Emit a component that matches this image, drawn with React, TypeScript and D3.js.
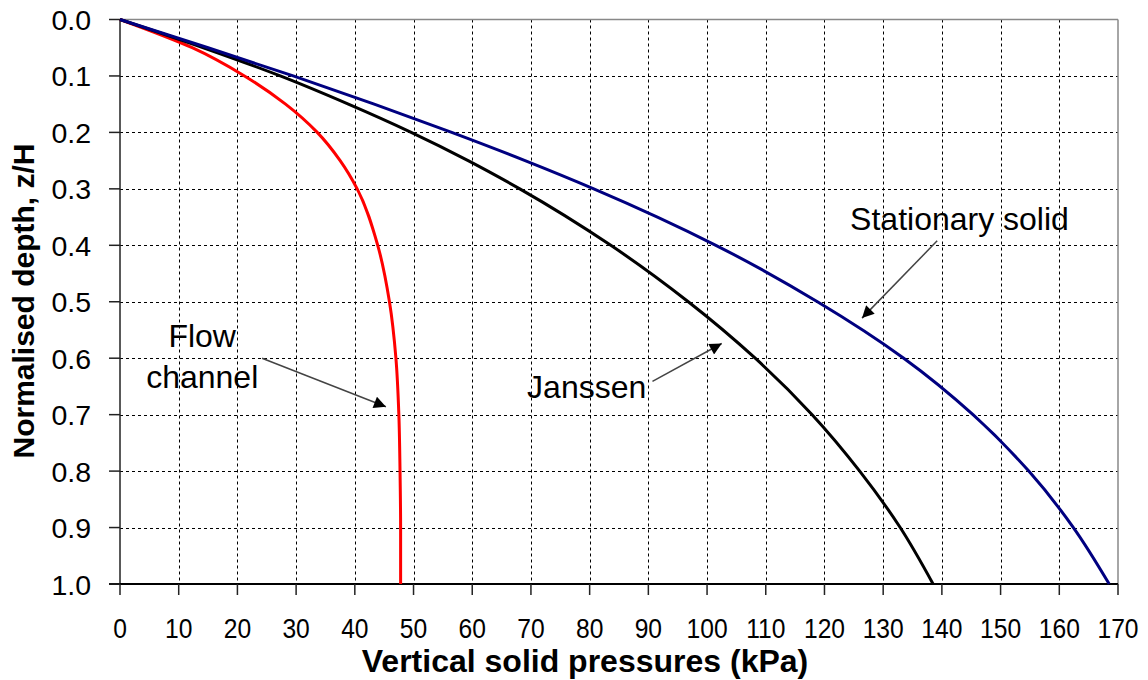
import React from "react";
import * as d3 from "d3";

const depth = [0, 0.05, 0.1, 0.15, 0.2, 0.25, 0.3, 0.4, 0.5, 0.6, 0.7, 0.8, 0.9, 1.0];
const flowChannel = [0, 12.3, 21.2, 28.2, 33.6, 37.5, 40.4, 43.9, 45.9, 47.0, 47.5, 47.7, 47.8, 47.8];
const janssen = [0, 14.2, 27.3, 38.9, 49.6, 59.3, 68.1, 83.6, 96.8, 108.2, 117.9, 126.0, 132.9, 138.5];
const stationary = [0, 15, 29.5, 43.3, 56.5, 69.0, 80.7, 101.5, 118.8, 133.5, 145.3, 154.8, 162.4, 168.5];

const xTicks = d3.range(0, 171, 10);
const yTicks = d3.range(0, 11).map((i) => i / 10);

const seriesNames = ["Flow channel", "Janssen", "Stationary solid"];
const seriesColors = ["#ff0000", "#000000", "#000080"];

const W = 1148;
const H = 680;
const FONT = "'Liberation Sans', Arial, sans-serif";

export default function App() {
  const x = d3.scaleLinear().domain([0, 170]).range([120, 1118]);
  const y = d3.scaleLinear().domain([0, 1]).range([19.5, 584]);

  const series = [flowChannel, janssen, stationary];
  const line = d3
    .line<[number, number]>()
    .x((d) => x(d[0]))
    .y((d) => y(d[1]))
    .curve(d3.curveMonotoneY);

  const labels = [
    { lines: ["Flow", "channel"], p: 14, d: 0.58, arrow: [[24.2, 0.6], [45.3, 0.686]] },
    { lines: ["Janssen"], p: 79.5, d: 0.67, arrow: [[90.7, 0.641], [102.5, 0.574]] },
    { lines: ["Stationary solid"], p: 143, d: 0.373, arrow: [[139.2, 0.392], [126.4, 0.529]] },
  ];

  return (
    <div style={{ position: "fixed", left: 0, top: 0 }}>
      <svg width={W} height={H} style={{ display: "block", background: "#fff" }} fontFamily={FONT}>
        <defs>
          <marker id="ah" viewBox="0 0 10 10" refX="10" refY="5" markerWidth="16" markerHeight="12" markerUnits="userSpaceOnUse" orient="auto">
            <path d="M0,0 L10,5 L0,10 Z" fill="#000" />
          </marker>
        </defs>
        <rect x={0} y={0} width={W} height={H} fill="#fff" />
        {yTicks.slice(1, -1).map((t) => (
          <line key={"gy" + t} x1={x(0)} x2={x(170)} y1={Math.round(y(t)) + 0.5} y2={Math.round(y(t)) + 0.5} stroke="#000" strokeWidth={1} strokeDasharray="3,3" />
        ))}
        {xTicks.slice(1, -1).map((t) => (
          <line key={"gx" + t} y1={y(0)} y2={y(1)} x1={Math.round(x(t)) + 0.5} x2={Math.round(x(t)) + 0.5} stroke="#000" strokeWidth={1} strokeDasharray="3,3" />
        ))}
        <line x1={x(0)} x2={x(170)} y1={y(0)} y2={y(0)} stroke="#888" strokeWidth={1.5} />
        <line x1={x(170)} x2={x(170)} y1={y(0)} y2={y(1)} stroke="#888" strokeWidth={1.5} />
        <line x1={x(0)} x2={x(0)} y1={y(0)} y2={y(1)} stroke="#222" strokeWidth={1.5} />
        <line x1={x(0) - 11} x2={x(170)} y1={y(1)} y2={y(1)} stroke="#000" strokeWidth={2} />
        {yTicks.map((t) => (
          <line key={"ty" + t} x1={x(0) - 11} x2={x(0)} y1={y(t)} y2={y(t)} stroke="#222" strokeWidth={1.5} />
        ))}
        {xTicks.map((t) => (
          <line key={"tx" + t} x1={x(t)} x2={x(t)} y1={y(1)} y2={y(1) + 11} stroke="#222" strokeWidth={1.5} />
        ))}
        {yTicks.map((t) => (
          <text key={"ly" + t} x={91} y={y(t) + 10.5} fontSize={28.5} textAnchor="end" fill="#000">
            {d3.format(".1f")(t)}
          </text>
        ))}
        {xTicks.map((t) => (
          <text key={"lx" + t} transform={`translate(${x(t)},638) scale(0.88,1)`} fontSize={28} textAnchor="middle" fill="#000">
            {t}
          </text>
        ))}
        <text transform="translate(34,301) rotate(-90)" fontSize={30} fontWeight="bold" textAnchor="middle" fill="#000">
          Normalised depth, z/H
        </text>
        <text x={585} y={672} fontSize={32} fontWeight="bold" textAnchor="middle" fill="#000">
          Vertical solid pressures (kPa)
        </text>
        {series.map((s, i) => (
          <path
            key={seriesNames[i]}
            d={line(s.map((p, k) => [p, depth[k]] as [number, number])) || ""}
            fill="none"
            stroke={seriesColors[i]}
            strokeWidth={3}
          />
        ))}
        {labels.map((l) => (
          <g key={l.lines.join(" ")}>
            <line
              x1={x(l.arrow[0][0])}
              y1={y(l.arrow[0][1])}
              x2={x(l.arrow[1][0])}
              y2={y(l.arrow[1][1])}
              stroke="#444"
              strokeWidth={1.5}
              markerEnd="url(#ah)"
            />
            {l.lines.map((t, k) => (
              <text key={t} x={x(l.p)} y={y(l.d) + k * 41} fontSize={32} textAnchor="middle" fill="#000">
                {t}
              </text>
            ))}
          </g>
        ))}
      </svg>
    </div>
  );
}
